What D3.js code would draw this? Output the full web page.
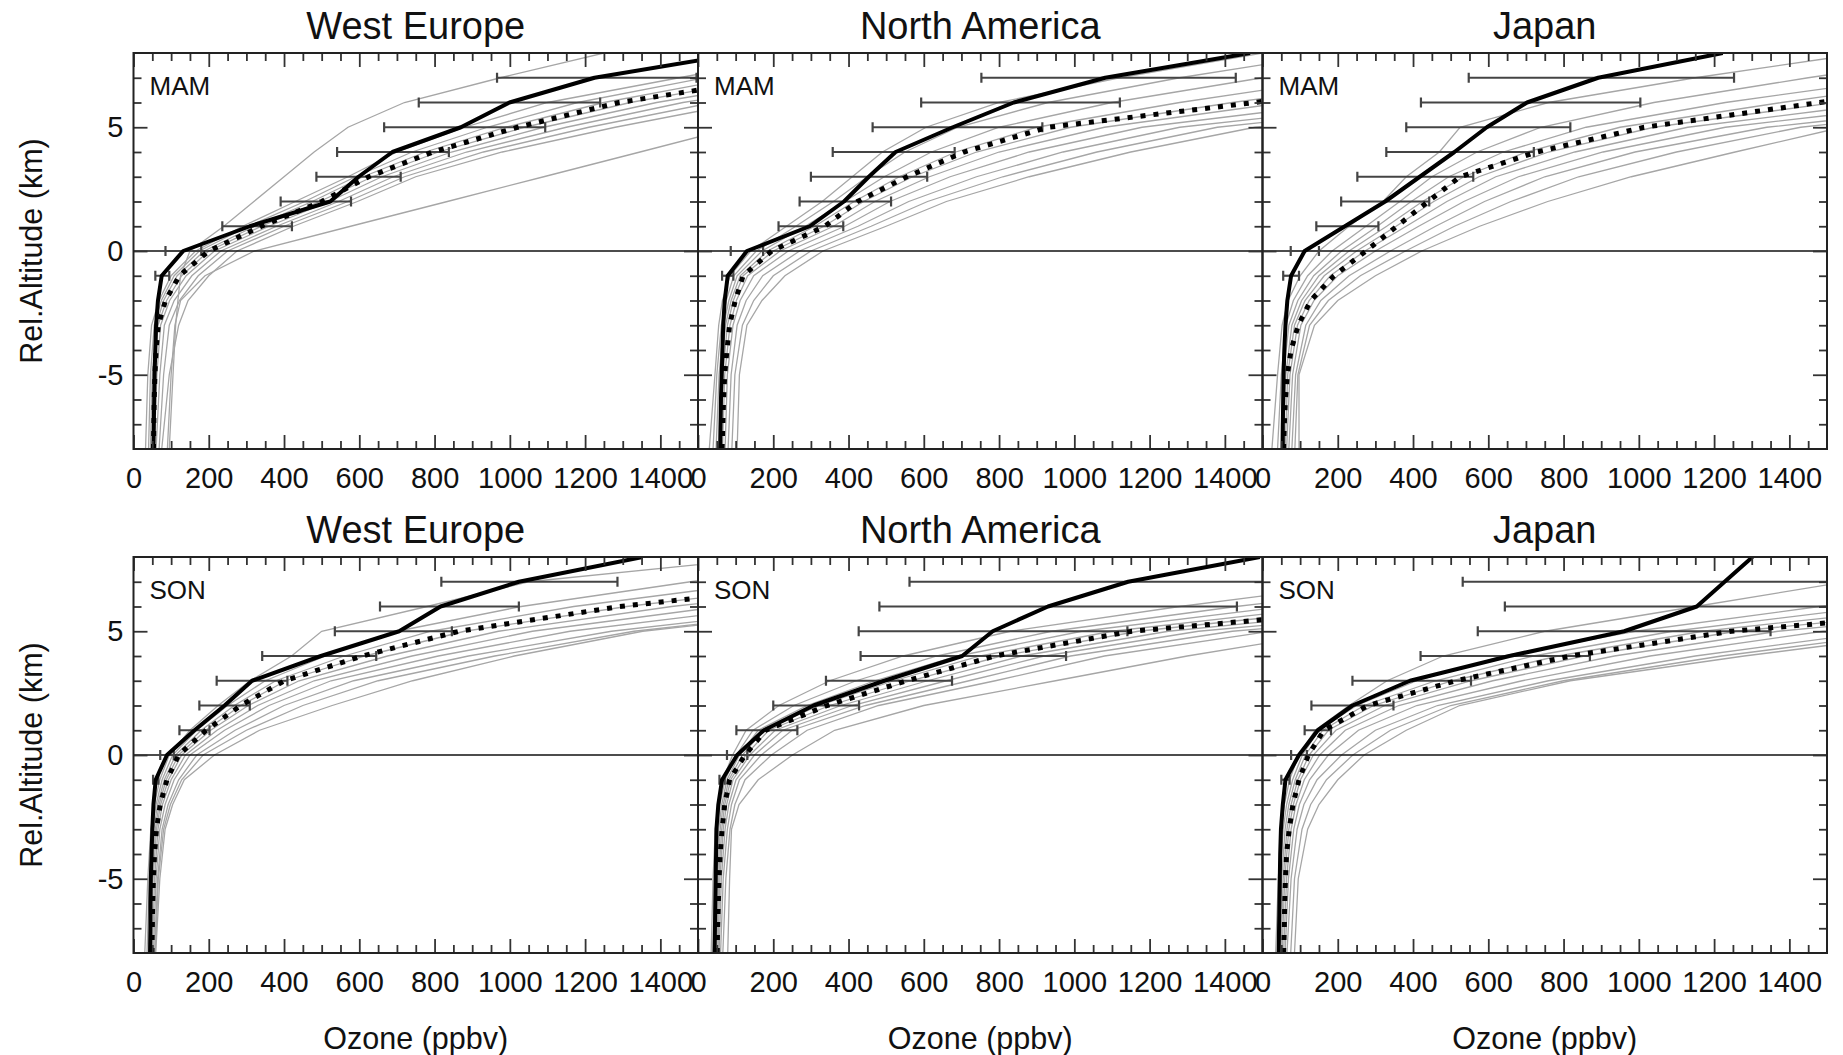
<!DOCTYPE html>
<html>
<head>
<meta charset="utf-8">
<script src="https://d3js.org/d3.v7.min.js"></script>
<style>
  body { margin: 0; background: #fff; }
  svg text { font-family: "Liberation Sans", Arial, Helvetica, sans-serif; fill: #111; }
</style>
</head>
<body>
<script>

// Altitude levels (km, relative to the tropopause)
var obsLevels = [-8, -7, -6, -5, -4, -3, -2, -1, 0, 1, 2, 3, 4, 5, 6, 7, 8];
var modelLevels = [-8, -5, -3, -2, -1, 0, 1, 2, 3, 4, 5, 6, 7, 8];
var barLevels = [-1, 0, 1, 2, 3, 4, 5, 6, 7];

var regions = ["West Europe", "North America", "Japan"];
var seasons = ["MAM", "SON"];
var xTickValues = [0, 200, 400, 600, 800, 1000, 1200, 1400];
var yTickValues = [-5, 0, 5];

// West Europe, MAM
var obsWeMam = [53, 54, 55, 56, 58, 60, 65, 75, 132, 309, 523, 598, 688, 870, 999, 1225, 1620];
var meanWeMam = [53, 54, 55, 57, 60, 66, 85, 122, 200, 340, 500, 625, 795, 1020, 1290, 1710, 2100];
var loWeMam = [58, 85, 236, 391, 486, 541, 666, 758, 966];
var hiWeMam = [95, 180, 421, 578, 710, 838, 1094, 1240, 1496];
var modelsWeMam = [
  [95, 105, 112, 118, 125, 150, 240, 320, 400, 480, 570, 720, 975, 1250],
  [90, 100, 110, 125, 190, 321, 577, 834, 1090, 1346, 1600, 1900, 2200, 2500],
  [32, 38, 48, 68, 100, 165, 290, 430, 570, 700, 880, 1100, 1450, 1800],
  [40, 45, 55, 74, 108, 175, 305, 455, 590, 740, 940, 1180, 1520, 1900],
  [45, 50, 60, 80, 116, 188, 322, 475, 610, 775, 990, 1250, 1600, 2000],
  [50, 55, 65, 88, 128, 200, 340, 495, 635, 810, 1040, 1320, 1690, 2100],
  [55, 62, 72, 96, 140, 215, 360, 520, 660, 845, 1090, 1390, 1780, 2200],
  [60, 70, 82, 108, 155, 232, 380, 545, 690, 885, 1150, 1460, 1870, 2300],
  [68, 80, 95, 122, 172, 250, 400, 570, 720, 930, 1210, 1540, 1960, 2400],
  [75, 95, 120, 145, 200, 275, 425, 595, 750, 980, 1280, 1620, 2050, 2500]
];

// North America, MAM
var obsNaMam = [59, 60, 61, 63, 65, 67, 71, 79, 130, 297, 388, 454, 525, 677, 839, 1082, 1467];
var meanNaMam = [64, 66, 68, 71, 77, 84, 99, 120, 196, 337, 424, 555, 707, 930, 1480, 1900, 2300];
var loNaMam = [64, 87, 214, 270, 300, 358, 464, 593, 753];
var hiNaMam = [94, 173, 386, 513, 609, 682, 915, 1121, 1429];
var modelsNaMam = [
  [30, 45, 55, 65, 85, 140, 235, 330, 410, 490, 606, 800, 1120, 1500],
  [40, 50, 62, 75, 95, 155, 260, 360, 450, 550, 690, 930, 1280, 1700],
  [48, 56, 68, 82, 104, 170, 285, 390, 495, 620, 800, 1100, 1500, 1950],
  [55, 61, 73, 88, 112, 185, 310, 415, 535, 685, 900, 1280, 1720, 2200],
  [60, 66, 78, 94, 120, 200, 335, 440, 570, 740, 990, 1420, 1900, 2400],
  [65, 71, 85, 102, 132, 218, 360, 470, 615, 800, 1080, 1560, 2080, 2600],
  [72, 78, 93, 112, 148, 240, 390, 510, 670, 880, 1180, 1720, 2250, 2800],
  [80, 88, 104, 128, 172, 270, 425, 560, 740, 970, 1280, 1880, 2450, 3000],
  [90, 98, 118, 148, 200, 300, 460, 610, 810, 1060, 1380, 2000, 2600, 3200],
  [104, 110, 130, 170, 231, 332, 500, 660, 880, 1150, 1480, 2150, 2800, 3400]
];

// Japan, MAM
var obsJpMam = [54, 54, 55, 56, 58, 61, 66, 76, 112, 219, 326, 418, 510, 596, 703, 892, 1223];
var meanJpMam = [56, 58, 61, 66, 76, 95, 128, 190, 275, 357, 440, 525, 729, 1014, 1480, 1950, 2400];
var loJpMam = [55, 75, 143, 209, 252, 329, 382, 421, 548];
var hiJpMam = [97, 150, 308, 443, 560, 721, 818, 1004, 1253];
var modelsJpMam = [
  [25, 40, 52, 68, 100, 150, 230, 320, 382, 470, 525, 760, 1150, 1600],
  [40, 50, 62, 82, 120, 185, 275, 365, 450, 570, 740, 1040, 1450, 1900],
  [48, 56, 70, 94, 136, 210, 305, 395, 495, 640, 860, 1230, 1700, 2200],
  [54, 62, 78, 104, 150, 230, 330, 425, 535, 700, 950, 1380, 1850, 2400],
  [60, 67, 85, 113, 164, 250, 355, 455, 575, 760, 1040, 1520, 2000, 2600],
  [64, 73, 93, 124, 180, 272, 382, 490, 620, 830, 1130, 1660, 2180, 2800],
  [70, 80, 102, 137, 200, 300, 415, 535, 680, 905, 1230, 1800, 2350, 3000],
  [78, 88, 115, 155, 230, 340, 460, 590, 750, 990, 1340, 1950, 2550, 3200],
  [86, 94, 125, 175, 260, 380, 510, 660, 840, 1100, 1430, 2050, 2700, 3350],
  [97, 97, 138, 200, 300, 423, 577, 758, 980, 1256, 1540, 2150, 2800, 3500]
];

// West Europe, SON
var obsWeSon = [44, 45, 45, 46, 48, 50, 53, 59, 89, 162, 242, 315, 498, 706, 816, 1024, 1353];
var meanWeSon = [49, 50, 51, 53, 56, 61, 71, 89, 120, 193, 285, 401, 608, 865, 1292, 1900, 2300];
var loWeSon = [52, 71, 122, 175, 221, 342, 535, 655, 818];
var hiWeSon = [66, 107, 202, 309, 409, 645, 846, 1024, 1286];
var modelsWeSon = [
  [30, 38, 46, 55, 70, 95, 150, 225, 310, 420, 500, 780, 1050, 1700],
  [36, 42, 50, 60, 76, 104, 168, 250, 350, 510, 700, 1030, 1480, 1900],
  [40, 46, 54, 64, 82, 112, 180, 268, 378, 560, 790, 1170, 1680, 2100],
  [44, 49, 58, 68, 87, 120, 192, 285, 405, 615, 880, 1310, 1870, 2350],
  [47, 52, 61, 72, 93, 128, 205, 305, 440, 675, 970, 1430, 2020, 2500],
  [50, 56, 65, 77, 100, 138, 222, 330, 480, 740, 1060, 1560, 2180, 2700],
  [53, 60, 70, 84, 108, 150, 242, 360, 525, 810, 1160, 1700, 2350, 2900],
  [56, 64, 76, 92, 120, 168, 270, 400, 585, 890, 1270, 1850, 2550, 3100],
  [58, 66, 80, 98, 128, 185, 300, 450, 650, 960, 1330, 1920, 2600, 3200],
  [59, 70, 84, 104, 135, 215, 335, 528, 742, 1012, 1353, 1950, 2650, 3300]
];

// North America, SON
var obsNaSon = [44, 45, 46, 47, 48, 49, 54, 64, 104, 175, 307, 495, 702, 783, 930, 1143, 1493];
var meanNaSon = [51, 52, 54, 56, 59, 64, 71, 84, 125, 180, 343, 555, 789, 1153, 1900, 2400, 2900];
var loNaSon = [57, 77, 102, 200, 340, 432, 427, 482, 562];
var hiNaSon = [71, 131, 264, 428, 675, 978, 1141, 1432, 1724];
var modelsNaSon = [
  [35, 40, 46, 53, 66, 92, 128, 215, 350, 545, 830, 1280, 1800, 2300],
  [40, 44, 51, 58, 72, 102, 146, 255, 420, 635, 940, 1430, 1980, 2500],
  [44, 48, 55, 63, 77, 110, 160, 290, 470, 690, 1020, 1560, 2140, 2700],
  [47, 52, 59, 67, 82, 118, 174, 322, 520, 750, 1100, 1680, 2300, 2900],
  [50, 55, 63, 71, 87, 127, 188, 350, 565, 805, 1170, 1790, 2430, 3050],
  [53, 58, 67, 76, 93, 138, 205, 380, 610, 860, 1250, 1920, 2580, 3200],
  [56, 62, 72, 82, 101, 150, 225, 410, 660, 920, 1330, 2050, 2730, 3400],
  [60, 67, 78, 89, 110, 168, 250, 445, 720, 990, 1420, 2180, 2880, 3600],
  [66, 74, 85, 98, 125, 195, 290, 480, 790, 1080, 1520, 2300, 3000, 3700],
  [79, 84, 89, 109, 160, 251, 363, 600, 950, 1300, 1700, 2450, 3150, 3900]
];

// Japan, SON
var obsJpSon = [43, 44, 45, 46, 47, 49, 54, 61, 97, 147, 239, 392, 656, 961, 1154, 1228, 1302];
var meanJpSon = [56, 58, 59, 61, 64, 71, 81, 97, 122, 163, 280, 514, 819, 1246, 2000, 2600, 3200];
var loJpSon = [50, 76, 112, 130, 239, 420, 572, 644, 532];
var hiJpSon = [72, 118, 182, 348, 554, 870, 1350, 1664, 1924];
var modelsJpSon = [
  [35, 42, 50, 58, 72, 96, 140, 230, 331, 480, 750, 1150, 1550, 2100],
  [40, 46, 55, 64, 80, 106, 150, 250, 410, 640, 990, 1480, 2050, 2700],
  [45, 51, 60, 70, 87, 114, 160, 270, 460, 720, 1090, 1630, 2250, 2900],
  [49, 55, 65, 76, 94, 124, 175, 295, 505, 785, 1170, 1780, 2420, 3100],
  [52, 59, 70, 82, 101, 135, 195, 325, 555, 855, 1260, 1930, 2580, 3300],
  [56, 64, 76, 89, 111, 152, 220, 362, 612, 935, 1370, 2080, 2760, 3500],
  [60, 69, 83, 98, 125, 175, 255, 410, 690, 1030, 1490, 2230, 2950, 3700],
  [65, 76, 92, 110, 145, 210, 300, 465, 760, 1150, 1640, 2400, 3150, 3900],
  [75, 85, 105, 128, 170, 240, 340, 500, 800, 1220, 1730, 2480, 3250, 4000],
  [85, 95, 120, 150, 200, 270, 382, 524, 818, 1280, 1800, 2550, 3300, 4100]
];

// Table of panels, row = season, col = region
var panels = [
  {row: 0, col: 0, obs: obsWeMam, mean: meanWeMam, lo: loWeMam, hi: hiWeMam, models: modelsWeMam},
  {row: 0, col: 1, obs: obsNaMam, mean: meanNaMam, lo: loNaMam, hi: hiNaMam, models: modelsNaMam},
  {row: 0, col: 2, obs: obsJpMam, mean: meanJpMam, lo: loJpMam, hi: hiJpMam, models: modelsJpMam},
  {row: 1, col: 0, obs: obsWeSon, mean: meanWeSon, lo: loWeSon, hi: hiWeSon, models: modelsWeSon},
  {row: 1, col: 1, obs: obsNaSon, mean: meanNaSon, lo: loNaSon, hi: hiNaSon, models: modelsNaSon},
  {row: 1, col: 2, obs: obsJpSon, mean: meanJpSon, lo: loJpSon, hi: hiJpSon, models: modelsJpSon}
];

// Layout
var outerWidth = 1843,
    outerHeight = 1055,
    plotLeft = [133.5, 698, 1262.5],
    plotTop = [53, 557],
    width = 564.5,
    height = 396,
    fontFamily = '"Liberation Sans", Arial, Helvetica, sans-serif';

var svg = d3.select("body").append("svg")
    .attr("width", outerWidth)
    .attr("height", outerHeight);

svg.append("rect")
    .attr("width", outerWidth)
    .attr("height", outerHeight)
    .attr("fill", "#fff");

var defs = svg.append("defs");

panels.forEach(function(p, i) {
  makePanel(p, i);
});

function pairs(values, levels) {
  return values.map(function(v, k) { return [v, levels[k]]; });
}

function makePanel(p, i) {
  var x = d3.scaleLinear().domain([0, 1500]).range([0, width]);
  var y = d3.scaleLinear().domain([-8, 8]).range([height, 0]);

  var g = svg.append("g")
      .attr("transform", "translate(" + plotLeft[p.col] + "," + plotTop[p.row] + ")");

  defs.append("clipPath").attr("id", "clip" + i)
    .append("rect")
      .attr("width", width)
      .attr("height", height);

  var body = g.append("g").attr("clip-path", "url(#clip" + i + ")");

  var line = d3.line()
      .x(function(d) { return x(d[0]); })
      .y(function(d) { return y(d[1]); });

  // individual profiles in grey
  body.selectAll(".model")
      .data(p.models)
      .enter().append("path")
      .attr("class", "model")
      .attr("d", function(m) { return line(pairs(m, modelLevels)); })
      .attr("fill", "none")
      .attr("stroke", "#a6a6a6")
      .attr("stroke-width", 1.3);

  // tropopause line
  body.append("line")
      .attr("x1", x(0)).attr("x2", x(1500))
      .attr("y1", y(0)).attr("y2", y(0))
      .attr("stroke", "#111")
      .attr("stroke-width", 1.5);

  // error bars of the observations
  var bars = body.selectAll(".bar")
      .data(barLevels.map(function(lev, k) { return {lev: lev, lo: p.lo[k], hi: p.hi[k]}; }))
      .enter().append("g")
      .attr("class", "bar")
      .attr("stroke", "#444")
      .attr("stroke-width", 2.2);

  bars.append("line")
      .attr("x1", function(d) { return x(d.lo); })
      .attr("x2", function(d) { return x(d.hi); })
      .attr("y1", function(d) { return y(d.lev); })
      .attr("y2", function(d) { return y(d.lev); });

  bars.append("line")
      .attr("x1", function(d) { return x(d.lo); })
      .attr("x2", function(d) { return x(d.lo); })
      .attr("y1", function(d) { return y(d.lev) - 5; })
      .attr("y2", function(d) { return y(d.lev) + 5; });

  bars.append("line")
      .attr("x1", function(d) { return x(d.hi); })
      .attr("x2", function(d) { return x(d.hi); })
      .attr("y1", function(d) { return y(d.lev) - 5; })
      .attr("y2", function(d) { return y(d.lev) + 5; });

  // model mean, dotted
  body.append("path")
      .attr("d", line(pairs(p.mean, obsLevels)))
      .attr("fill", "none")
      .attr("stroke", "#000")
      .attr("stroke-width", 5)
      .attr("stroke-dasharray", "5,8");

  // observed profile, thick
  body.append("path")
      .attr("d", line(pairs(p.obs, obsLevels)))
      .attr("fill", "none")
      .attr("stroke", "#000")
      .attr("stroke-width", 4)
      .attr("stroke-linejoin", "round");

  // axes with inward ticks on all four sides
  var xMinor = d3.range(50, 1500, 50).filter(function(v) { return v % 200 !== 0; });
  var xMajor = d3.range(0, 1501, 200);
  var yMinor = d3.range(-7, 8).filter(function(v) { return v % 5 !== 0; });

  function styleAxis(a) {
    a.select(".domain").remove();
    a.selectAll(".tick line").attr("stroke", "#333").attr("stroke-width", 1.8);
    a.attr("font-size", 29).attr("font-family", fontFamily);
    a.selectAll("text").attr("fill", "#111");
  }

  g.append("g")
      .attr("transform", "translate(0," + height + ")")
      .call(d3.axisBottom(x).tickValues(xTickValues).tickSize(-14).tickPadding(18)
        .tickFormat(function(d) { return d; }))
      .call(styleAxis);
  g.append("g")
      .attr("transform", "translate(0," + height + ")")
      .call(d3.axisBottom(x).tickValues(xMinor).tickSize(-8).tickFormat(""))
      .call(styleAxis);
  g.append("g")
      .call(d3.axisTop(x).tickValues(xMajor).tickSize(-14).tickFormat(""))
      .call(styleAxis);
  g.append("g")
      .call(d3.axisTop(x).tickValues(xMinor).tickSize(-8).tickFormat(""))
      .call(styleAxis);

  g.append("g")
      .call(d3.axisLeft(y).tickValues(yTickValues).tickSize(-14).tickPadding(10)
        .tickFormat(function(d) { return p.col === 0 ? String(d) : ""; }))
      .call(styleAxis);
  g.append("g")
      .call(d3.axisLeft(y).tickValues(yMinor).tickSize(-8).tickFormat(""))
      .call(styleAxis);
  g.append("g")
      .attr("transform", "translate(" + width + ",0)")
      .call(d3.axisRight(y).tickValues(yTickValues).tickSize(-14).tickFormat(""))
      .call(styleAxis);
  g.append("g")
      .attr("transform", "translate(" + width + ",0)")
      .call(d3.axisRight(y).tickValues(yMinor).tickSize(-8).tickFormat(""))
      .call(styleAxis);

  // frame
  g.append("rect")
      .attr("width", width)
      .attr("height", height)
      .attr("fill", "none")
      .attr("stroke", "#222")
      .attr("stroke-width", 2);

  // region title and season label
  g.append("text")
      .attr("x", width / 2)
      .attr("y", -14)
      .attr("text-anchor", "middle")
      .style("font-size", "38px")
      .text(regions[p.col]);

  g.append("text")
      .attr("x", 16)
      .attr("y", 42)
      .style("font-size", "26px")
      .text(seasons[p.row]);

  if (p.col === 0) {
    g.append("text")
        .attr("transform", "translate(" + (31 - plotLeft[0]) + "," + (height / 2) + ") rotate(-90)")
        .attr("text-anchor", "middle")
        .attr("dy", "0.35em")
        .style("font-size", "30.5px")
        .text("Rel.Altitude (km)");
  }

  if (p.row === 1) {
    g.append("text")
        .attr("x", width / 2)
        .attr("y", height + 96)
        .attr("text-anchor", "middle")
        .style("font-size", "30.5px")
        .text("Ozone (ppbv)");
  }
}

</script>
</body>
</html>
